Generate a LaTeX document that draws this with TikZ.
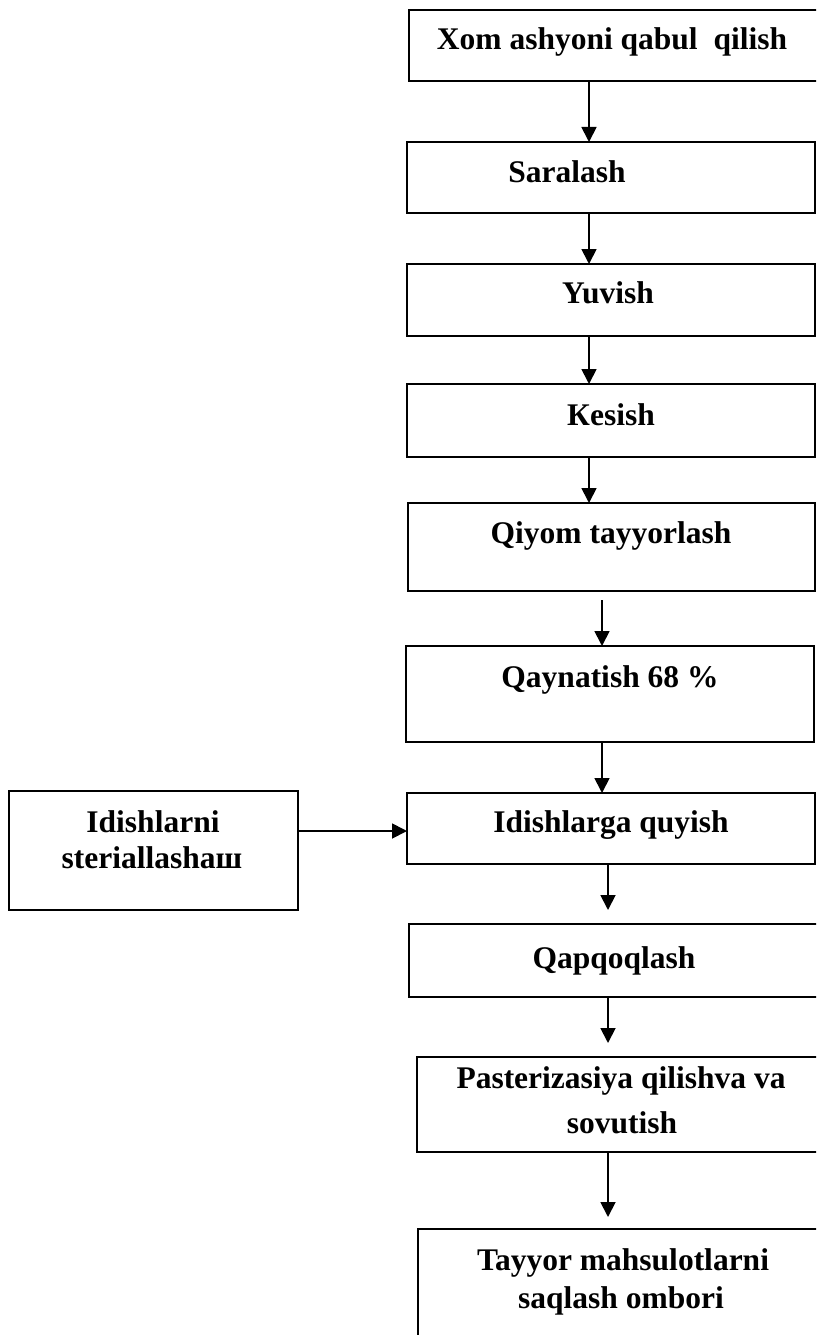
\documentclass[tikz,border=0pt]{standalone}
\usepackage{fontspec}
\setmainfont{Liberation Serif}
\usetikzlibrary{arrows.meta,calc}
\begin{document}
\begin{tikzpicture}[x=1pt,y=-1pt,
  boxstyle/.style={draw=black,line width=1.5pt,inner sep=0pt,outer sep=0pt,rectangle},
  lbl/.style={anchor=base,inner sep=0pt,font=\bfseries\fontsize{31.5}{37}\selectfont},
  arr/.style={line width=1.8pt,-{Triangle[length=15pt,width=15pt]}}]
\useasboundingbox (0,0) rectangle (816,1335);
\clip (0,0) rectangle (816,1335);
% boxes
\node[boxstyle,minimum width=411pt,minimum height=71pt] (b1) at (614.5,45.5) {};
\node[boxstyle,minimum width=408pt,minimum height=71pt] (b2) at (611,177.5) {};
\node[boxstyle,minimum width=408pt,minimum height=72pt] (b3) at (611,300) {};
\node[boxstyle,minimum width=408pt,minimum height=73pt] (b4) at (611,420.5) {};
\node[boxstyle,minimum width=407pt,minimum height=88pt] (b5) at (611.5,547) {};
\node[boxstyle,minimum width=408pt,minimum height=96pt] (b6) at (610,694) {};
\node[boxstyle,minimum width=408pt,minimum height=71pt] (b7) at (611,828.5) {};
\node[boxstyle,minimum width=289pt,minimum height=119pt] (bl) at (153.5,850.5) {};
\node[boxstyle,minimum width=411pt,minimum height=73pt] (b8) at (614.5,960.5) {};
\node[boxstyle,minimum width=403pt,minimum height=95pt] (b9) at (618.5,1104.5) {};
\node[boxstyle,minimum width=402pt,minimum height=116pt] (b10) at (619,1287) {};
% texts
\node[lbl] (t1) at (612,50) {Xom ashyoni qabul\ \ qilish};
\node[lbl] (t2) at (567,182) {Saralash};
\node[lbl] (t3) at (608,303) {Yuvish};
\node[lbl] (t4) at (611,425) {Кesish};
\node[lbl] (t5) at (611,543) {Qiyom tayyorlash};
\node[lbl] (t6) at (610,687) {Qaynatish 68 \%};
\node[lbl] (t7) at (611,832) {Idishlarga quyish};
\node[lbl] (tl1) at (153,832) {Idishlarni};
\node[lbl] (tl2) at (152,868) {steriallashaш};
\node[lbl] (t8) at (614,968) {Qapqoqlash};
\node[lbl] (t9a) at (621,1088) {Pasterizasiya qilishva va};
\node[lbl] (t9b) at (622,1133) {sovutish};
\node[lbl] (t10a) at (623,1270) {Tayyor mahsulotlarni};
\node[lbl] (t10b) at (621,1308) {saqlash ombori};
% arrow columns
\coordinate (xa) at (589,0);
\coordinate (xb) at (602,0);
\coordinate (xc) at (608,0);
\coordinate (yh) at (0,831);
% arrows
\draw[arr] (b1.south -| xa) -- (b2.north -| xa);
\draw[arr] (b2.south -| xa) -- (b3.north -| xa);
\draw[arr] (b3.south -| xa) -- (b4.north -| xa);
\draw[arr] (b4.south -| xa) -- (b5.north -| xa);
\draw[arr,shorten <=9pt] (b5.south -| xb) -- (b6.north -| xb);
\draw[arr] (b6.south -| xb) -- (b7.north -| xb);
\draw[arr] (bl.east |- yh) -- (b7.west |- yh);
\draw[arr,shorten >=14pt] (b7.south -| xc) -- (b8.north -| xc);
\draw[arr,shorten >=14pt] (b8.south -| xc) -- (b9.north -| xc);
\draw[arr,shorten >=12pt] (b9.south -| xc) -- (b10.north -| xc);
\end{tikzpicture}
\end{document}
